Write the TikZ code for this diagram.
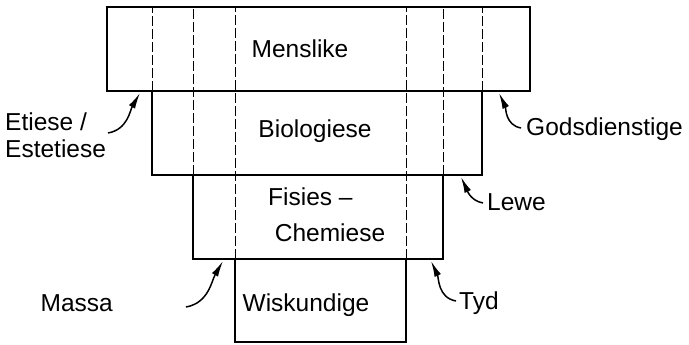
\documentclass[tikz,border=0pt]{standalone}
\usepackage{fontspec}
\setmainfont{Liberation Sans}
\usetikzlibrary{arrows.meta}
\begin{document}
\begin{tikzpicture}[x=1pt,y=1pt,
  box/.style={draw, line width=1.6pt, inner sep=0pt, outer sep=0pt},
  guide/.style={line width=1pt, dash pattern=on 10pt off 3pt},
  lbl/.style={font=\fontsize{24.5}{27}\selectfont, inner sep=0pt},
  arr/.style={line width=1.5pt, -{Latex[length=16pt,width=7pt]}}]
\useasboundingbox (0,0) rectangle (689,-345);
% boxes
\node[box, minimum width=423pt, minimum height=84pt] (mens) at (318.5,-49) {};
\node[box, minimum width=330pt, minimum height=84pt] (bio) at (317,-133) {};
\node[box, minimum width=250pt, minimum height=84pt] (fis) at (318,-217) {};
\node[box, minimum width=171pt, minimum height=83pt] (wis) at (320.5,-300.5) {};
% guide lines
\draw[guide] (bio.north west) -- (bio.north west |- mens.north);
\draw[guide] (bio.north east) -- (bio.north east |- mens.north);
\draw[guide] (fis.north west) -- (fis.north west |- mens.north);
\draw[guide] (fis.north east) -- (fis.north east |- mens.north);
\draw[guide] (wis.north west) -- (wis.north west |- mens.north);
\draw[guide] (wis.north east) -- (wis.north east |- mens.north);
% box texts
\node[lbl] (tmens) at (300,-49) {Menslike};
\node[lbl] (tbio) at (315,-131) {Biologiese};
\node[lbl, anchor=west] (tfis) at (268,-197) {Fisies –};
\node[lbl] (tchem) at (330,-233) {Chemiese};
\node[lbl] (twis) at (306,-305) {Wiskundige};
% side labels
\node[lbl, align=left, anchor=west] (etl) at (5,-135) {Etiese /\\Estetiese};
\node[lbl, anchor=west] (god) at (526,-129) {Godsdienstige};
\node[lbl, anchor=west] (lew) at (487,-202) {Lewe};
\node[lbl, anchor=east] (mas) at (113,-303) {Massa};
\node[lbl, anchor=west] (tyd) at (459,-303) {Tyd};
% arrow ends
\coordinate (eA) at (108,-133); \coordinate (eB) at (140,-93);
\coordinate (gA) at (521,-128); \coordinate (gB) at (499,-93);
\coordinate (lA) at (483,-203); \coordinate (lB) at (461,-177);
\coordinate (mA) at (186,-307); \coordinate (mB) at (223,-261);
\coordinate (yA) at (456,-301); \coordinate (yB) at (431,-261);
\draw[arr] (eA) to[out=10, in=-120] (eB);
\draw[arr] (gA) to[out=170, in=-65] (gB);
\draw[arr] (lA) to[out=170, in=-65] (lB);
\draw[arr] (mA) to[out=10, in=-120] (mB);
\draw[arr] (yA) to[out=170, in=-65] (yB);
\end{tikzpicture}
\end{document}
